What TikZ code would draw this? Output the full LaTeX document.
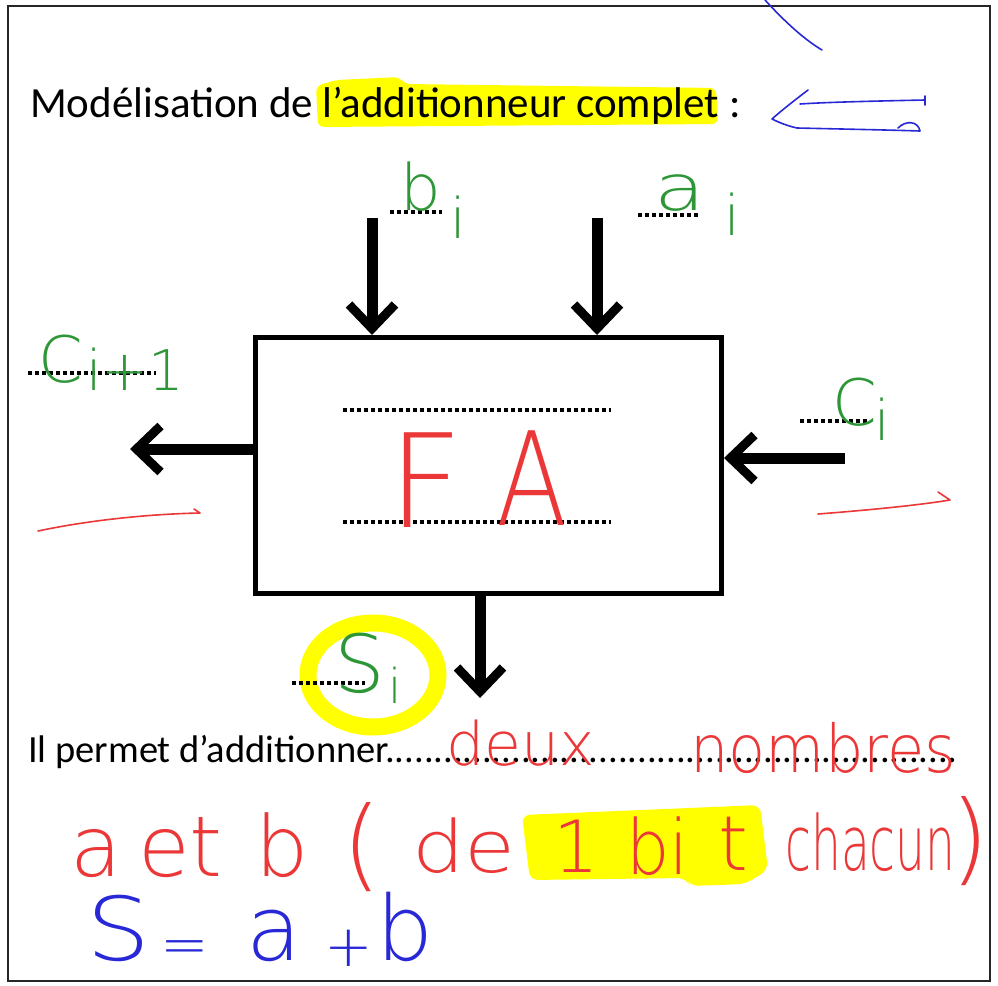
\documentclass[tikz,border=0pt]{standalone}
\usepackage{fontspec}
\setmainfont{Carlito}
\IfFontExistsTF{DejaVuSans-ExtraLight.ttf}{\newfontfamily\handfont{DejaVuSans-ExtraLight.ttf}}{%
 \IfFontExistsTF{DejaVu Sans ExtraLight}{\newfontfamily\handfont{DejaVu Sans ExtraLight}}{%
  \IfFontExistsTF{Fira Sans Light}{\newfontfamily\handfont{Fira Sans Light}}{%
   \IfFontExistsTF{Lato Light}{\newfontfamily\handfont{Lato Light}}{%
    \newfontfamily\handfont{DejaVu Sans}}}}}
\usetikzlibrary{arrows.meta}
\newcommand\fsz[1]{\fontsize{#1}{#1}\selectfont}
\definecolor{pgreen}{RGB}{45,150,55}
\definecolor{pred}{RGB}{235,55,55}
\definecolor{pblue}{RGB}{40,40,215}
\definecolor{hly}{RGB}{255,255,0}
\tikzset{
  bigarrow/.style={line width=11pt, -{Straight Barb[length=24pt,width=46pt,line width=9pt]}},
  pdots/.style={line width=4pt, dash pattern=on 4pt off 3pt},
  hw/.style={inner sep=0pt, anchor=base west, font=\handfont\fsz{#1}},
  pen/.style={line width=1.6pt, line cap=round, line join=round},
}
\begin{document}
\begin{tikzpicture}[x=1pt,y=-1pt]
\useasboundingbox (0,0) rectangle (998,985);
\fill[white] (0,0) rectangle (998,985);
\draw[line width=2pt, black!85] (8,6) rectangle (990,981);

% highlights
\fill[hly, rounded corners=6pt] (316,86) -- (336,80) -- (400,77) -- (404,84) -- (716,88) -- (718,124) -- (318,127) -- cycle;
\fill[hly, rounded corners=8pt] (522,815) -- (760,805) -- (768,870) -- (745,884) -- (690,886) -- (686,878) -- (530,880) -- cycle;
\draw[hly, line width=17pt] (373,675) ellipse [x radius=65, y radius=52];

% printed texts
\node[anchor=base west, inner sep=0pt, font=\fsz{43}] (title) at (30,117) {Modélisation de l’additionneur complet :};
\node[anchor=base west, inner sep=0pt, font=\fsz{38.5}] (body) at (28,762) {Il permet d’additionner...........................................................};

% block
\node[draw, line width=5pt, minimum width=466pt, minimum height=256pt, inner sep=0pt] (fa) at (488.5,465.5) {};
\draw[pdots] (343,410) -- (611,410);
\draw[pdots] (343,522) -- (611,522);

% connectors
\coordinate (bin) at (372,218);
\coordinate (ain) at (597,218);
\coordinate (cout) at (130,449);
\coordinate (cin) at (845,458);
\coordinate (sout) at (480,698);
\draw[bigarrow] (bin) -- (bin |- fa.north);
\draw[bigarrow] (ain) -- (ain |- fa.north);
\draw[bigarrow] (fa.west |- cout) -- (cout);
\draw[bigarrow] (cin) -- (cin -| fa.east);
\draw[bigarrow] (sout |- fa.south) -- (sout);

% label blanks
\draw[pdots] (390,212) -- (442,212);
\draw[pdots] (638,215) -- (700,215);
\draw[pdots] (28,373) -- (156,373);
\draw[pdots] (800,421) -- (870,421);
\draw[pdots] (292,683) -- (365,683);

% green labels
\node[hw=64, text=pgreen] (lb) at (400,210) {b};
\node[hw=56, text=pgreen] (lbi) at (450,238) {i};
\node[hw=64, text=pgreen] (la) at (654,210) {\scalebox{1.3}[1]{a}};
\node[hw=56, text=pgreen] (lai) at (724,235) {i};
\node[hw=64, text=pgreen] (lc1) at (38,382) {C};
\node[hw=56, text=pgreen] (lc1i) at (86,390) {i+1};
\node[hw=64, text=pgreen] (lc) at (832,425) {C};
\node[hw=56, text=pgreen] (lci) at (874,440) {i};
\node[hw=80, text=pgreen] (ls) at (334,692) {S};
\node[hw=48, text=pgreen] (lsi) at (388,703) {i};

% red FA
\node[hw=130, text=pred] (lf) at (388,527) {F};
\node[hw=130, text=pred] (lA) at (496,525) {\scalebox{0.8}[1]{A}};

% red strokes
\draw[pen, pred] (38,531) .. controls (90,520) and (150,514) .. (200,513) -- (194,509);
\draw[pen, pred] (818,514) .. controls (870,510) and (920,505) .. (950,500) -- (938,492);

% blue strokes
\draw[pen, pblue] (765,0) .. controls (785,22) and (805,40) .. (822,50);
\draw[pen, pblue] (925,96) -- (925,105) (925,100) .. controls (880,101) and (830,102) .. (800,104);
\draw[pen, pblue] (808,90) .. controls (795,100) and (782,110) .. (772,119) .. controls (780,123) and (788,126) .. (797,128) .. controls (840,129) and (890,130) .. (920,131) .. controls (918,121) and (906,120) .. (898,128);

% red answer text
\node[hw=60, text=pred] (w1) at (446,765) {deux};
\node[hw=66, text=pred] (w2) at (690,772) {\scalebox{0.92}[1]{nombres}};
\node[hw=84, text=pred] (r1) at (70,876) {a};
\node[hw=84, text=pred] (r2) at (138,876) {et};
\node[hw=84, text=pred] (r3) at (255,876) {b};
\node[hw=100, text=pred] (r4) at (342,878) {(};
\node[hw=72, text=pred] (r5) at (412,872) {\scalebox{1.15}[1]{de}};
\node[hw=72, text=pred] (r6) at (553,872) {1};
\node[hw=76, text=pred] (r7) at (626,874) {\scalebox{0.9}[1]{bi}};
\node[hw=76, text=pred] (r8) at (718,870) {t};
\node[hw=76, text=pred] (r9) at (785,870) {\scalebox{0.62}[1]{chacun}};
\node[hw=100, text=pred] (r10) at (950,872) {)};

% blue formula
\node[hw=88, text=pblue] (f1) at (86,960) {\scalebox{1.15}[1]{S}};
\node[hw=58, text=pblue] (f2) at (160,964) {=};
\node[hw=90, text=pblue] (f3) at (246,960) {a};
\node[hw=58, text=pblue] (f4) at (324,966) {+};
\node[hw=90, text=pblue] (f5) at (376,960) {b};
\end{tikzpicture}
\end{document}
